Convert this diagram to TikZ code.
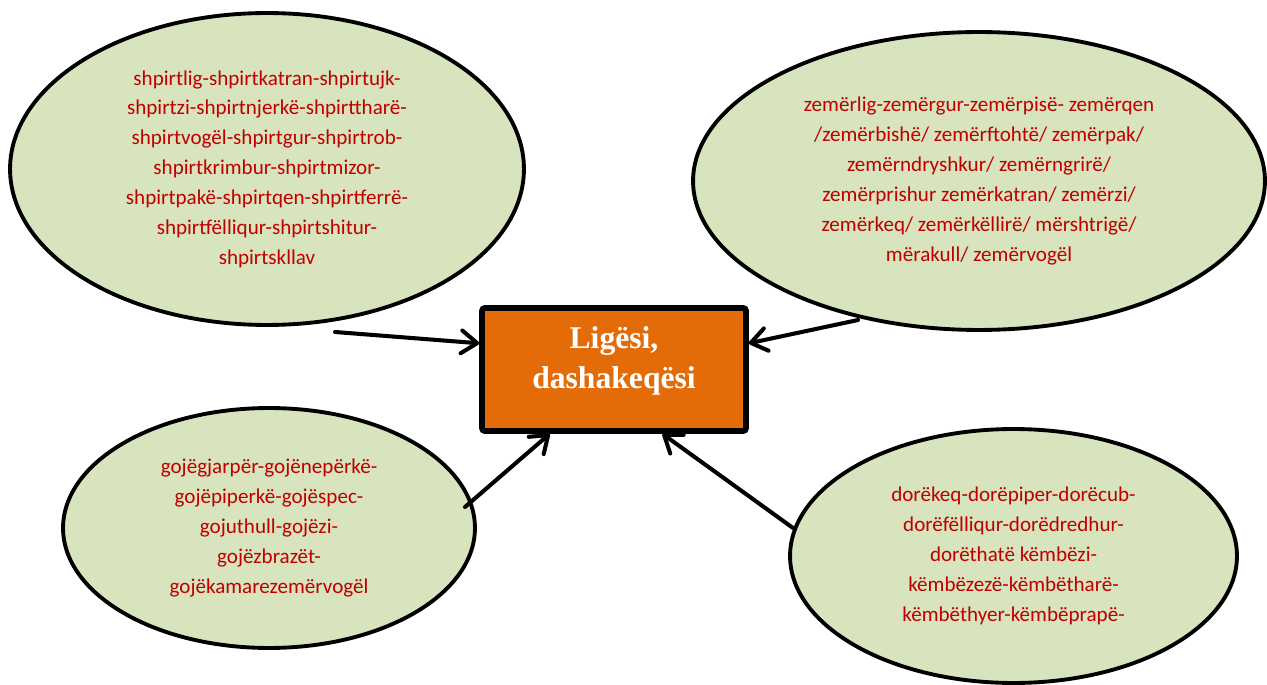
\documentclass[tikz,border=0pt]{standalone}
\usepackage{fontspec}
\setmainfont{Carlito}
\newfontfamily\hubfont{Liberation Serif}
\usepackage{tikz}
\usetikzlibrary{arrows.meta,positioning,shapes.geometric}
\definecolor{cRed}{HTML}{C00000}
\definecolor{cLeaf}{HTML}{D7E4BD}
\definecolor{cOrange}{HTML}{E36C09}
\tikzset{
  bubble/.style={ellipse,draw=black,fill=cLeaf,line width=2.2pt,inner sep=0pt,align=center,text=cRed,font=\fontsize{12}{17}\selectfont},
  hub/.style={draw=black,fill=cOrange,line width=3.2pt,rounded corners=1.5pt,minimum width=5.28cm,minimum height=2.46cm},
  hubtxt/.style={text=white,align=center,inner sep=0pt,font=\hubfont\bfseries\fontsize{18}{23}\selectfont},
  arr/.style={-{Straight Barb[length=9pt,width=13pt,round]},line width=2.3pt,line cap=round},
}

\begin{document}
\begin{tikzpicture}[x=0.02cm,y=-0.02cm]
  \useasboundingbox (0,0) rectangle (1267,685);

  % four clouds of words
  \node[bubble,minimum width=10.28cm,minimum height=6.24cm] (soul) at (267,169)
    {shpirtlig-shpirtkatran-shpirtujk-\\shpirtzi-shpirtnjerkë-shpirttharë-\\shpirtvogël-shpirtgur-shpirtrob-\\shpirtkrimbur-shpirtmizor-\\shpirtpakë-shpirtqen-shpirtferrë-\\shpirtfëlliqur-shpirtshitur-\\shpirtskllav};
  \node[bubble,minimum width=11.44cm,minimum height=5.96cm] (heart) at (979,181)
    {zemërlig-zemërgur-zemërpisë- zemërqen\\/zemërbishë/ zemërftohtë/ zemërpak/\\zemërndryshkur/ zemërngrirë/\\zemërprishur zemërkatran/ zemërzi/\\zemërkeq/ zemërkëllirë/ mërshtrigë/\\mërakull/ zemërvogël};
  \node[bubble,minimum width=8.24cm,minimum height=4.8cm] (mouth) at (269,528)
    {gojëgjarpër-gojënepërkë-\\gojëpiperkë-gojëspec-\\gojuthull-gojëzi-\\gojëzbrazët-\\gojëkamarezemërvogël};
  \node[bubble,minimum width=8.94cm,minimum height=5.08cm] (hand) at (1013.5,556)
    {dorëkeq-dorëpiper-dorëcub-\\dorëfëlliqur-dorëdredhur-\\dorëthatë këmbëzi-\\këmbëzezë-këmbëtharë-\\këmbëthyer-këmbëprapë-};

  % centre
  \node[hub] (hub) at (614,369.5) {};
  \node[hubtxt] (hubtxt) at (614,361) {Ligësi,\\dashakeqësi};

  % arrows into the centre
  \coordinate (s1) at (335,332);
  \coordinate (s2) at (858,320);
  \coordinate (s3) at (465,507);
  \coordinate (s4) at (793,528);
  \foreach \s/\a in {s1/169,s2/11,s3/225,s4/307}
    \draw[arr] (\s) -- (hub.\a);
\end{tikzpicture}
\end{document}
